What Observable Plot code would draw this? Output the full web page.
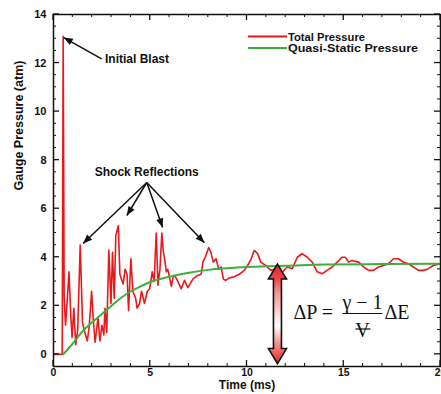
<!DOCTYPE html>
<html><head><meta charset="utf-8">
<script src="https://cdn.jsdelivr.net/npm/d3@7"></script>
<script src="https://cdn.jsdelivr.net/npm/@observablehq/plot@0.6"></script>
<style>
body{margin:0;background:#fff}
#chart svg{font-family:"Liberation Sans",Arial,sans-serif}
</style>
</head><body><div id="chart"></div>
<script>
// ---- data ----
const totalTime = [
  0,0.45,0.5,0.55,0.62,0.7,0.8,0.9,0.96,1.05,
  1.15,1.25,1.38,1.5,1.62,1.75,1.85,1.97,2.05,2.15,
  2.3,2.4,2.5,2.6,2.66,2.75,2.86,2.97,3.05,3.14,
  3.22,3.35,3.43,3.6,3.7,3.8,3.88,4.0,4.1,4.25,
  4.32,4.45,4.55,4.7,4.85,4.97,5.1,5.2,5.31,5.4,
  5.5,5.6,5.68,5.75,5.83,5.91,6.09,6.2,6.3,6.4,
  6.6,6.77,6.94,7.2,7.45,7.63,7.72,7.88,8.02,8.13,
  8.26,8.4,8.54,8.66,8.78,8.9,9.08,9.34,9.6,9.85,
  10.03,10.2,10.37,10.55,10.71,10.97,11.23,11.49,11.83,12.08,
  12.34,12.6,12.85,13.11,13.37,13.63,13.88,14.14,14.4,14.66,
  14.91,15.08,15.25,15.42,15.77,16.03,16.28,16.54,16.8,17.05,
  17.31,17.57,17.82,18.08,18.34,18.6,18.85,19.11,19.37,19.63,
  20];
const totalPressure = [
  0,0,13.1,2.4,1.2,2.1,3.4,1.5,0.7,1.9,
  0.4,1.0,4.5,1.3,0.9,0.55,1.2,2.6,1.5,0.5,
  1.5,0.55,1.2,0.8,1.9,0.9,4.3,2.1,4.2,2.3,
  4.9,5.3,3.3,2.9,3.5,3.3,1.8,3.95,2.6,2.3,
  1.9,2.1,2.6,2.1,2.6,2.7,3.4,3.0,5.0,2.85,
  3.5,5.0,4.2,3.9,3.4,3.5,2.8,3.25,3.2,3.05,
  2.7,3.05,2.75,3.1,3.25,3.3,3.8,4.07,4.4,4.2,
  3.8,3.94,3.5,3.6,3.1,3.05,3.15,3.2,3.3,3.45,
  3.66,3.9,4.28,4.15,3.8,3.66,3.46,3.53,3.39,3.6,
  3.53,4.0,4.15,4.0,3.8,3.4,3.32,3.46,3.6,3.8,
  4.0,4.0,3.8,3.87,3.8,3.6,3.46,3.46,3.6,3.66,
  3.73,3.94,3.94,3.8,3.73,3.6,3.46,3.46,3.53,3.66,
  3.73];
const quasiTime = [0.5,0.75,1,1.5,2,2.5,3,3.5,4,4.5,5,6,7,8,9,10,11,12,14,17,20];
const quasiPressure = [0,0.22,0.45,0.95,1.32,1.66,2.0,2.33,2.6,2.8,2.98,3.2,3.36,3.48,3.55,3.6,3.63,3.65,3.7,3.72,3.73];

const seriesNames = ["Total Pressure", "Quasi-Static Pressure"];
const seriesColors = ["#e8191c", "#3fae3c"];

const xMajorTicks = [0,5,10,15,20];
const xMinorTicks = [1,2,3,4,6,7,8,9,11,12,13,14,16,17,18,19];
const yMajorTicks = [0,2,4,6,8,10,12,14];
const yMinorTicks = [0.5,1,1.5,2.5,3,3.5,4.5,5,5.5,6.5,7,7.5,8.5,9,9.5,10.5,11,11.5,12.5,13,13.5];

const xLabel = "Time (ms)";
const yLabel = "Gauge Pressure (atm)";

// annotations (data coordinates)
const blastLabel = ["Initial Blast"];
const blastArrow = [{x1: 2.49, y1: 12.17, x2: 0.53, y2: 13.05}];
const shockLabel = ["Shock Reflections"];
const shockTail = {t: 4.82, p: 7.08};
const shockTipT = [1.53, 3.79, 5.64, 7.8];
const shockTipP = [4.57, 5.72, 5.23, 4.6];
const deltaArrow = {t: 11.6, top: 3.7, bottom: -0.4};

// ---- build ----
const total = totalTime.map((t, i) => ({t, p: totalPressure[i]}));
const quasi = quasiTime.map((t, i) => ({t, p: quasiPressure[i]}));
const shockArrows = shockTipT.map((t, i) => ({x1: shockTail.t, y1: shockTail.p, x2: t, y2: shockTipP[i]}));

const plot = Plot.plot({
  width: 441, height: 394,
  marginLeft: 53, marginRight: 1, marginTop: 14, marginBottom: 28,
  x: {domain: [0, 20], label: null},
  y: {domain: [-0.5, 14], label: null},
  style: {fontFamily: "Liberation Sans, Arial, sans-serif", fontSize: "11px", fontWeight: "bold", color: "#111", background: "white"},
  marks: [
    Plot.axisX(xMajorTicks, {anchor: "bottom", tickSize: 0, tickPadding: 2, label: null, fontSize: 10.5}),
    Plot.axisY(yMajorTicks, {anchor: "left", tickSize: 0, tickPadding: 7, label: null, fontSize: 11}),
    Plot.text([xLabel], {frameAnchor: "bottom", dy: 22, text: d => d, fontSize: 12, fontWeight: "bold"}),
    Plot.text([yLabel], {frameAnchor: "left", dx: -35, rotate: -90, text: d => d, fontSize: 12.5, fontWeight: "bold"}),
    Plot.line(total, {x: "t", y: "p", stroke: seriesColors[0], strokeWidth: 1.6}),
    Plot.line(quasi, {x: "t", y: "p", stroke: seriesColors[1], strokeWidth: 2, curve: "monotone-x"}),
    Plot.link(blastArrow, {x1: "x1", y1: "y1", x2: "x2", y2: "y2", stroke: "#111", strokeWidth: 1.5, markerEnd: "arrow"}),
    Plot.text(blastLabel, {x: 2.66, y: 12.17, text: d => d, textAnchor: "start", fontSize: 12, fontWeight: "bold"}),
    Plot.link(shockArrows, {x1: "x1", y1: "y1", x2: "x2", y2: "y2", stroke: "#111", strokeWidth: 1.5, markerEnd: "arrow"}),
    Plot.text(shockLabel, {x: shockTail.t, y: 7.5, text: d => d, fontSize: 12, fontWeight: "bold"}),
    Plot.frame({stroke: "#111", strokeWidth: 1.5})
  ]
});
document.getElementById("chart").appendChild(plot);

const svg = d3.select(plot);
// filled arrowheads
svg.selectAll("marker")
  .attr("viewBox", "-10 -5 10 10")
  .attr("markerWidth", 6.67).attr("markerHeight", 6.67)
  .selectAll("path").attr("d", "M-9,-3.6L0,0L-9,3.6Z").attr("fill", "#111").attr("stroke", "none");

const xs = plot.scale("x"), ys = plot.scale("y");
const X = v => xs.apply(v), Y = v => ys.apply(v);
const [fx0, fx1] = xs.range, [fy0, fy1] = ys.range; // fy0 bottom, fy1 top

// inward ticks on all four sides, positioned by Plot's scales
const tg = svg.append("g").attr("stroke", "#111");
const tick = (x1, y1, x2, y2, w) => tg.append("line").attr("x1", x1).attr("y1", y1).attr("x2", x2).attr("y2", y2).attr("stroke-width", w);
xMajorTicks.forEach(v => { const x = X(v); tick(x, fy0, x, fy0 - 6, 1.3); tick(x, fy1, x, fy1 + 6, 1.3); });
xMinorTicks.forEach(v => { const x = X(v); tick(x, fy0, x, fy0 - 3, 1); tick(x, fy1, x, fy1 + 3, 1); });
yMajorTicks.forEach(v => { const y = Y(v); tick(fx0, y, fx0 + 6, y, 1.3); tick(fx1, y, fx1 - 6, y, 1.3); });
yMinorTicks.forEach(v => { const y = Y(v); tick(fx0, y, fx0 + 3, y, 1); tick(fx1, y, fx1 - 3, y, 1); });

// legend (inside the frame, top right)
const lg = svg.append("g").attr("font-size", 11).attr("font-weight", "bold").attr("fill", "#111").attr("text-anchor", "start");
seriesNames.forEach((name, i) => {
  const y = 36.5 + i * 11.5;
  lg.append("line").attr("x1", 248).attr("x2", 287).attr("y1", y).attr("y2", y)
    .attr("stroke", seriesColors[i]).attr("stroke-width", 2);
  lg.append("text").attr("x", 288).attr("y", y + 4).attr("textLength", i ? 130 : 77).attr("lengthAdjust", "spacingAndGlyphs").text(name);
});

// double-headed delta arrow with gradient
const defs = svg.append("defs");
const grad = defs.append("linearGradient").attr("id", "dpgrad").attr("x1", 0).attr("x2", 0).attr("y1", 0).attr("y2", 1);
[["0%", "#e62a2a"], ["14%", "#ec4545"], ["30%", "#f49a9a"], ["62%", "#ffffff"], ["80%", "#f69090"], ["100%", "#e42525"]]
  .forEach(([o, c]) => grad.append("stop").attr("offset", o).attr("stop-color", c));
const ax = X(deltaArrow.t), at = Y(deltaArrow.top), ab = Y(deltaArrow.bottom);
const hw = 9, sw = 4, hl = 15;
const pts = [
  [ax, at], [ax + hw, at + hl], [ax + sw, at + hl], [ax + sw, ab - hl], [ax + hw, ab - hl],
  [ax, ab], [ax - hw, ab - hl], [ax - sw, ab - hl], [ax - sw, at + hl], [ax - hw, at + hl]
];
svg.append("path").attr("d", "M" + pts.map(p => p.join(",")).join("L") + "Z")
  .attr("fill", "url(#dpgrad)").attr("stroke", "#111").attr("stroke-width", 1.6).attr("stroke-linejoin", "miter");

// formula ΔP = (γ−1)/V ΔE
const fx = ax + 16, base = 319;
const fg = svg.append("g").attr("font-family", "Liberation Serif, Times New Roman, serif").attr("font-size", 20)
  .attr("fill", "#111").attr("font-weight", "normal").attr("text-anchor", "start");
fg.append("text").attr("x", fx).attr("y", base).text("ΔP =");
fg.append("text").attr("x", fx + 69).attr("y", 309).attr("text-anchor", "middle").text("γ − 1");
fg.append("line").attr("x1", fx + 49).attr("x2", fx + 89).attr("y1", 313.5).attr("y2", 313.5).attr("stroke", "#111").attr("stroke-width", 1.2);
fg.append("text").attr("x", fx + 69).attr("y", 337).attr("text-anchor", "middle").text("V");
fg.append("line").attr("x1", fx + 62).attr("x2", fx + 77).attr("y1", 329).attr("y2", 329).attr("stroke", "#111").attr("stroke-width", 1.2);
fg.append("text").attr("x", fx + 91).attr("y", base).text("ΔE");
</script>
</body></html>
